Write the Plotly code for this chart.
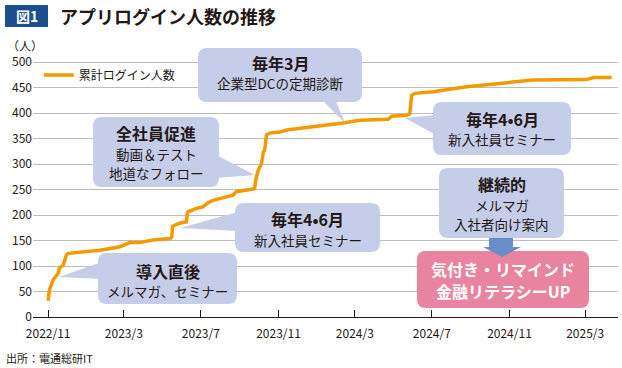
import plotly.graph_objects as go

# ---------------- data ----------------
dates = [
    "2022-11-01", "2022-11-03", "2022-11-09", "2022-11-17", "2022-11-19", "2022-11-25",
    "2022-11-30", "2022-12-03", "2023-01-22", "2023-02-23", "2023-03-10", "2023-03-26",
    "2023-04-16", "2023-05-13", "2023-05-16", "2023-05-17", "2023-05-28", "2023-06-08",
    "2023-06-10", "2023-06-24", "2023-07-04", "2023-07-12", "2023-07-20", "2023-08-10",
    "2023-08-21", "2023-08-26", "2023-09-11", "2023-09-24", "2023-09-27", "2023-09-30",
    "2023-10-05", "2023-10-08", "2023-10-10", "2023-10-13", "2023-10-18", "2023-11-03",
    "2023-11-14", "2023-12-05", "2024-01-05", "2024-02-11", "2024-03-09", "2024-04-23",
    "2024-04-28", "2024-05-22", "2024-05-27", "2024-05-30", "2024-06-04", "2024-07-03",
    "2024-08-25", "2024-10-17", "2024-11-12", "2024-12-08", "2025-03-03", "2025-03-14",
    "2025-04-12",
]
logins = [
    32, 53, 73, 86, 96, 102,
    122, 125, 131, 138, 146, 146,
    151, 154, 157, 178, 184, 187,
    206, 213, 216, 224, 229, 236,
    239, 246, 249, 252, 275, 288,
    301, 324, 327, 357, 361, 363,
    367, 370, 374, 381, 386, 388,
    394, 396, 399, 435, 439, 442,
    452, 458, 461, 465, 466, 470,
    470,
]
series_name = "累計ログイン人数"
tick_dates = ["2022-11-01", "2023-03-01", "2023-07-01", "2023-11-01",
              "2024-03-01", "2024-07-01", "2024-11-01", "2025-03-01"]
tick_labels = ["2022/11", "2023/3", "2023/7", "2023/11",
               "2024/3", "2024/7", "2024/11", "2025/3"]
y_ticks = [0, 50, 100, 150, 200, 250, 300, 350, 400, 450, 500]

# ---------------- layout helpers ----------------
FONT = "Noto Sans CJK JP"
W_PX, H_PX = 622, 368
L, R, T, B = 33, 618, 47, 317
PW, PH = R - L, B - T


def px(x):
    return (x - L) / PW


def py(y):
    return (B - y) / PH


BOX = "#C5CDE9"
PINK = "#E8849F"
ARROW = "#6A8DC8"
NAVY = "#1A4F8E"
ORANGE = "#F29A00"
TXT = "#231815"

shapes = []
annotations = []


def rrect(x0, y0, x1, y1, r, color):
    path = (
        f"M {px(x0 + r)} {py(y0)} L {px(x1 - r)} {py(y0)} "
        f"Q {px(x1)} {py(y0)} {px(x1)} {py(y0 + r)} "
        f"L {px(x1)} {py(y1 - r)} "
        f"Q {px(x1)} {py(y1)} {px(x1 - r)} {py(y1)} "
        f"L {px(x0 + r)} {py(y1)} "
        f"Q {px(x0)} {py(y1)} {px(x0)} {py(y1 - r)} "
        f"L {px(x0)} {py(y0 + r)} "
        f"Q {px(x0)} {py(y0)} {px(x0 + r)} {py(y0)} Z"
    )
    shapes.append(dict(type="path", path=path, xref="paper", yref="paper",
                       fillcolor=color, line=dict(width=0), layer="above"))


def poly(pts, color):
    path = "M " + " L ".join(f"{px(a)} {py(b)}" for a, b in pts) + " Z"
    shapes.append(dict(type="path", path=path, xref="paper", yref="paper",
                       fillcolor=color, line=dict(width=0), layer="above"))


def text(x, y, s, size, bold=False, color=TXT, anchor="center"):
    annotations.append(dict(
        x=px(x), y=py(y), xref="paper", yref="paper", text=f"<b>{s}</b>" if bold else s,
        showarrow=False, xanchor=anchor, yanchor="middle",
        font=dict(family=FONT, size=size, color=color)))


# callout 1
rrect(98, 253, 237, 304, 9, BOX)
poly([(59, 277), (102, 262), (102, 279)], BOX)
text(167.5, 271, "導入直後", 16, True)
text(167.5, 291, "メルマガ、セミナー", 13.5)
# callout 2
rrect(93, 117, 219, 187, 9, BOX)
poly([(216, 155), (255, 175), (216, 178)], BOX)
text(156, 133, "全社員促進", 16, True)
text(156, 154, "動画＆テスト", 13.5)
text(156, 173, "地道なフォロー", 13.5)
# callout 3
rrect(235, 203, 380, 252, 9, BOX)
poly([(180, 228), (238, 212), (238, 231)], BOX)
text(307.5, 219, "毎年4•6月", 16, True)
text(307.5, 240, "新入社員セミナー", 13.5)
# callout 4
rrect(198, 48, 362, 102, 9, BOX)
poly([(321, 99), (345, 123), (335, 99)], BOX)
text(280, 63, "毎年3月", 16, True)
text(280, 83, "企業型DCの定期診断", 13.5)
# callout 5
rrect(433, 102, 571, 155, 9, BOX)
poly([(405, 118), (436, 115), (436, 135)], BOX)
text(502, 119, "毎年4•6月", 16, True)
text(502, 139, "新入社員セミナー", 13.5)
# callout 6
rrect(439, 168, 564, 238, 9, BOX)
text(501.5, 184, "継続的", 16, True)
text(501.5, 205, "メルマガ", 13.5)
text(501.5, 224, "入社者向け案内", 13.5)
# pink box + arrow
rrect(417, 251, 589, 308, 9, PINK)
shapes.append(dict(type="rect", xref="paper", yref="paper", x0=px(489), x1=px(513),
                   y0=py(238), y1=py(248), fillcolor=ARROW, line=dict(width=0), layer="above"))
poly([(483, 247), (521, 247), (502, 257)], ARROW)
text(503, 269, "気付き・リマインド", 16, True, "white")
text(503, 291, "金融リテラシーUP", 16, True, "white")

# title badge
shapes.append(dict(type="rect", xref="paper", yref="paper", x0=px(5), x1=px(48),
                   y0=py(5), y1=py(27), fillcolor=NAVY, line=dict(width=0), layer="above"))
text(26.5, 16, "図1", 14, True, "white")
text(58, 16, "アプリログイン人数の推移", 18, True, TXT, "left")
text(5, 45, "（人）", 12, False, TXT, "left")
text(4, 358, "出所：電通総研IT", 11, False, TXT, "left")

# ---------------- figure ----------------
fig = go.Figure()
fig.add_trace(go.Scatter(
    x=dates, y=logins, mode="lines", name=series_name,
    line=dict(color=ORANGE, width=3.5, shape="linear"),
))

fig.update_layout(
    width=W_PX, height=H_PX,
    margin=dict(l=L, r=W_PX - R, t=T, b=H_PX - B, pad=0),
    paper_bgcolor="white", plot_bgcolor="white",
    font=dict(family=FONT, size=12, color=TXT),
    showlegend=True,
    legend=dict(x=0.01, y=py(75), xanchor="left", yanchor="middle",
                bgcolor="rgba(0,0,0,0)", font=dict(size=12, family=FONT, color=TXT),
                itemwidth=30, tracegroupgap=0),
    shapes=shapes, annotations=annotations,
    xaxis=dict(
        type="date", range=["2022-10-08", "2025-04-22"],
        tickvals=tick_dates, ticktext=tick_labels,
        showgrid=False, showline=True, linecolor="#231815", linewidth=1.3,
        ticks="inside", ticklen=7, tickcolor="#231815", tickwidth=1,
        ticklabelstandoff=5,
        tickfont=dict(size=12, family=FONT, color=TXT), zeroline=False,
    ),
    yaxis=dict(
        range=[0, 530], tickvals=y_ticks,
        showgrid=True, gridcolor="#BDBDBD", gridwidth=1,
        showline=False, zeroline=False, ticks="",
        tickfont=dict(size=12, family=FONT, color=TXT),
    ),
)

fig.write_html(
    "out.html",
    config={"displayModeBar": False},
    post_script="document.body.style.margin='0';document.body.style.overflow='hidden';",
)
